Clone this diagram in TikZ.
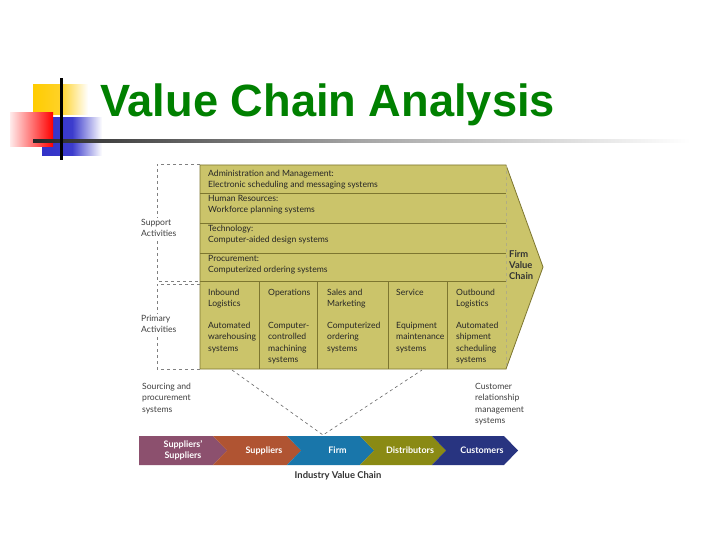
\documentclass[tikz,border=0pt]{standalone}
\usepackage{fontspec}
\setmainfont{Lato}
\newfontfamily\titlefont{Liberation Sans}
\usetikzlibrary{positioning}
\definecolor{vcfill}{RGB}{203,196,106}
\definecolor{vcline}{RGB}{125,118,48}
\definecolor{vcpurple}{RGB}{140,80,110}
\definecolor{vcbrown}{RGB}{176,84,50}
\definecolor{vcblue}{RGB}{25,118,170}
\definecolor{vcolive}{RGB}{138,138,20}
\definecolor{vcnavy}{RGB}{40,52,128}
\definecolor{vcgreen}{RGB}{0,128,0}
\tikzset{
  cell/.style={font=\fontsize{8.6}{11.3}\selectfont, text=black!85, align=left, anchor=north west, inner sep=0pt},
  side/.style={cell, text=black!75},
  sidebox/.style={side, fill=white, inner sep=1pt},
  boldcell/.style={cell, font=\fontsize{9.4}{11.3}\selectfont\bfseries, text=black!80},
  chevtxt/.style={font=\fontsize{9}{11}\selectfont\bfseries, text=white, align=center, inner sep=0pt},
  gridline/.style={draw=vcline, line width=0.8pt},
  dashbox/.style={draw=black!50, dashed, line width=0.6pt}
}
\begin{document}
\begin{tikzpicture}[x=1pt,y=-1pt]
\useasboundingbox[fill=white] (0,0) rectangle (720,540);
% title bullet and rule
\shade[left color={rgb,255:red,255;green,204;blue,0}, right color=white, middle color={rgb,255:red,255;green,210;blue,40}] (33,85) rectangle (88,115);
\shade[left color={rgb,255:red,50;green,50;blue,200}, right color=white, middle color={rgb,255:red,60;green,60;blue,205}] (42,118) rectangle (102,156);
\shade[shading angle=60, left color=red!8, right color=red] (10,113) rectangle (53,147);
\shade[left color=black!85, right color=white, middle color=black!35] (33,140) rectangle (690,142.5);
\fill[black] (60,78) rectangle (62.5,160);
\node[anchor=base west, inner sep=0pt, text=vcgreen, font=\titlefont\fontsize{45.2}{50}\selectfont\bfseries] (title) at (100,117) {Value Chain Analysis};

% firm value chain
\draw[fill=vcfill, draw=vcline, line width=0.8pt] (200,165) -- (506,165) -- (543,267) -- (506,369) -- (200,369) -- cycle;
\foreach \y in {193,223,253,281}
  \draw[gridline] (200,\y) -- (506,\y);
\foreach \x in {259,317,388,447}
  \draw[gridline] (\x,281) -- (\x,369);
\draw[draw=vcline!60, dashed, line width=0.5pt] (506,165) -- (506,369);
\draw[dashbox] (200,164) -| (157,281) -- (200,281);
\draw[dashbox] (200,284) -| (157,369) -- (200,369);

\node[cell] (admin) at (208,169.7) {Administration and Management:\\Electronic scheduling and messaging systems};
\node[cell] (hr) at (208,194.7) {Human Resources:\\Workforce planning systems};
\node[cell] (tech) at (208,224.7) {Technology:\\Computer-aided design systems};
\node[cell] (proc) at (208,254.7) {Procurement:\\Computerized ordering systems};

\foreach \n/\x/\h/\b in {inb/208/{Inbound\\Logistics}/{Automated\\warehousing\\systems},
    ops/268/{Operations}/{Computer-\\controlled\\machining\\systems},
    sales/327/{Sales and\\Marketing}/{Computerized\\ordering\\systems},
    serv/396/{Service}/{Equipment\\maintenance\\systems},
    outb/456/{Outbound\\Logistics}/{Automated\\shipment\\scheduling\\systems}}{
  \node[cell] (\n-head) at (\x,288.7) {\h};
  \node[cell] (\n-body) at (\x,322) {\b};
}
\node[boldcell] (fvc) at (509,250) {Firm\\Value\\Chain};

\node[sidebox] (support) at (140,218) {Support\\Activities};
\node[sidebox] (primary) at (140,314) {Primary\\Activities};
\node[side] (sourcing) at (142,383) {Sourcing and\\procurement\\systems};
\node[side] (crm) at (475,383) {Customer\\relationship\\management\\systems};

% industry value chain
\foreach \n/\l/\r/\nt/\c/\t in {supsup/139/213/0/vcpurple/{Suppliers'\\Suppliers},
    sup/213/287/14/vcbrown/{Suppliers},
    firm/287/360/14/vcblue/{Firm},
    dist/360/432/14/vcolive/{Distributors},
    cust/432/504/14/vcnavy/{Customers}}{
  \fill[\c] (\l,436) -- (\r,436) -- (\r+14,450.5) -- (\r,465) -- (\l,465) -- (\l+\nt,450.5) -- cycle;
  \node[chevtxt] (\n) at ({(\l+\nt+\r+14)/2},450.5) {\t};
}
\node[boldcell, anchor=north] (ivc) at (338,471.5) {Industry Value Chain};

\coordinate (vl) at (232,370);
\coordinate (vr) at (422,370);
\coordinate (vb) at (323,435);
\draw[dashbox, draw=black!60] (vl) -- (vb) -- (vr);
\end{tikzpicture}
\end{document}
